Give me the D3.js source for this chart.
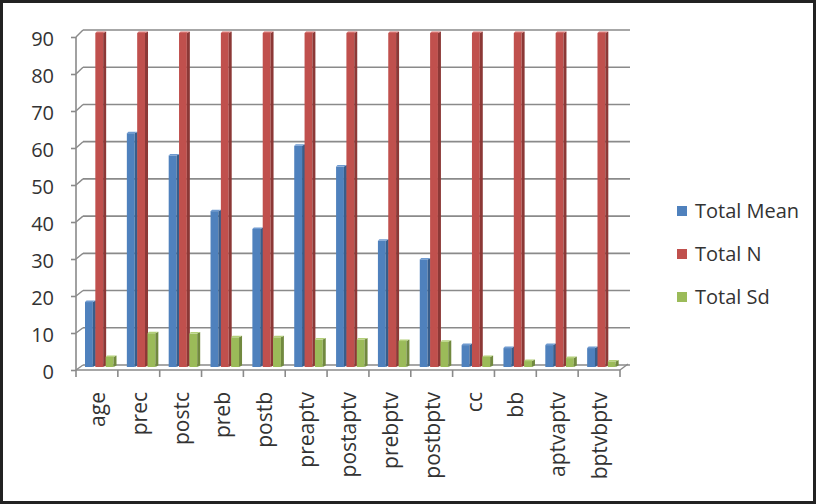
<!DOCTYPE html>
<html><head><meta charset="utf-8">
<script src="https://cdn.jsdelivr.net/npm/d3@7"></script>
<style>body{margin:0;background:#fff}svg{display:block}text{font-family:"Open Sans",sans-serif;fill:#333}</style>
</head><body><svg id="c" width="816" height="504"></svg>
<script>
const categories = ["age","prec","postc","preb","postb","preaptv","postaptv","prebptv","postbptv","cc","bb","aptvaptv","bptvbptv"];
const seriesNames = ["Total Mean","Total N","Total Sd"];
const totalMean = [17.5,63,57,42,37.2,59.6,54,34,29,5.9,5.1,5.9,5.1];
const totalN = [90,90,90,90,90,90,90,90,90,90,90,90,90];
const totalSd = [2.7,9.1,9,8,8,7.4,7.4,7,6.8,2.7,1.6,2.4,1.5];
const yTicks = [0,10,20,30,40,50,60,70,80,90];
const colors = ["#4F81BD","#C0504D","#9BBB59"];
const sides = ["#385D8A","#8C3836","#71893F"];
const tops = ["#6F9AD0","#D36D6A","#B3CF78"];

const seriesValues = [totalMean,totalN,totalSd];
const svg = d3.select("#c");
svg.append("rect").attr("x",1.5).attr("y",1.5).attr("width",813).attr("height",501)
  .attr("fill","#fff").attr("stroke","#222").attr("stroke-width",3);

const yBar = d3.scaleLinear().domain([0,90]).range([367,33]);
const yFront = d3.scaleLinear().domain([0,90]).range([370,37]);
const yBack = d3.scaleLinear().domain([0,90]).range([365,30]);
const x = d3.scaleBand().domain(categories).range([76,620]).padding(0);
const xs = d3.scaleBand().domain(seriesNames).range([9,40]).padding(0);
const backX0 = 83, backX1 = 630, gridColor = "#8a8a8a";

// gridlines (back wall) and left wall connectors
const g = svg.append("g");
yTicks.forEach(v=>{
  g.append("line").attr("x1",backX0).attr("x2",backX1).attr("y1",yBack(v)).attr("y2",yBack(v))
    .attr("stroke",gridColor).attr("stroke-width",1.6);
  g.append("line").attr("x1",76).attr("x2",backX0).attr("y1",yFront(v)).attr("y2",yBack(v))
    .attr("stroke",gridColor).attr("stroke-width",1.4);
});
// right floor edge
g.append("line").attr("x1",620).attr("x2",backX1-2).attr("y1",yFront(0)).attr("y2",yBack(0)-1)
  .attr("stroke",gridColor).attr("stroke-width",1.4);

// bars
const bw = xs.bandwidth(), sideW = 3, faceW = bw - sideW + 0.5;
seriesNames.forEach((s,si)=>{
  const gs = svg.append("g");
  categories.forEach((c,ci)=>{
    const v = seriesValues[si][ci];
    const x0 = x(c)+xs(s);
    const yt = yBar(v), yb = yBar(0);
    gs.append("rect").attr("x",x0).attr("y",yt).attr("width",faceW).attr("height",yb-yt).attr("fill",colors[si]);
    gs.append("polygon").attr("points",[[x0+faceW,yt],[x0+faceW+sideW,yt-1.5],[x0+faceW+sideW,yb-1.5],[x0+faceW,yb]].join(" "))
      .attr("fill",sides[si]);
    gs.append("polygon").attr("points",[[x0,yt],[x0+1.5,yt-1.5],[x0+faceW+sideW,yt-1.5],[x0+faceW,yt]].join(" "))
      .attr("fill",tops[si]);
  });
});

// left axis
const ya = svg.append("g").attr("transform","translate(76,0)")
  .call(d3.axisLeft(yFront).tickValues(yTicks).tickSize(5).tickPadding(17));
ya.select(".domain").attr("stroke",gridColor).attr("stroke-width",1.6).attr("d","M0,"+yFront(0)+"V"+yFront(90));
ya.selectAll(".tick line").attr("stroke",gridColor).attr("stroke-width",1.6);
ya.selectAll(".tick text").attr("font-size",20).attr("fill","#333").attr("dy","0.42em").attr("font-family","Open Sans");

// bottom axis
const xa = svg.append("g").attr("transform","translate(0,"+yFront(0)+")")
  .call(d3.axisBottom(x).tickSize(0).tickPadding(0));
xa.select(".domain").attr("stroke",gridColor).attr("stroke-width",1.6).attr("d","M76,0H620");
xa.selectAll(".tick text").attr("font-size",21).attr("fill","#333").attr("font-family","Open Sans")
  .attr("text-anchor","end").attr("dy",null).attr("y",null)
  .attr("transform","translate(8,22) rotate(-90)");
const bounds = categories.map(c=>x(c)).concat([x(categories[categories.length-1])+x.bandwidth()]);
xa.selectAll(".bt").data(bounds).enter().append("line").attr("class","bt")
  .attr("x1",d=>d).attr("x2",d=>d).attr("y1",0).attr("y2",7)
  .attr("stroke",gridColor).attr("stroke-width",1.6);

// legend
const lg = svg.append("g").attr("transform","translate(677,0)");
const ly = [211,254,297];
seriesNames.forEach((s,i)=>{
  lg.append("rect").attr("x",0).attr("y",ly[i]-5).attr("width",10).attr("height",10).attr("fill",colors[i]);
  lg.append("text").attr("x",18).attr("y",ly[i]).attr("dy","0.36em").attr("font-size",20).attr("fill","#333").text(s);
});
</script></body></html>
